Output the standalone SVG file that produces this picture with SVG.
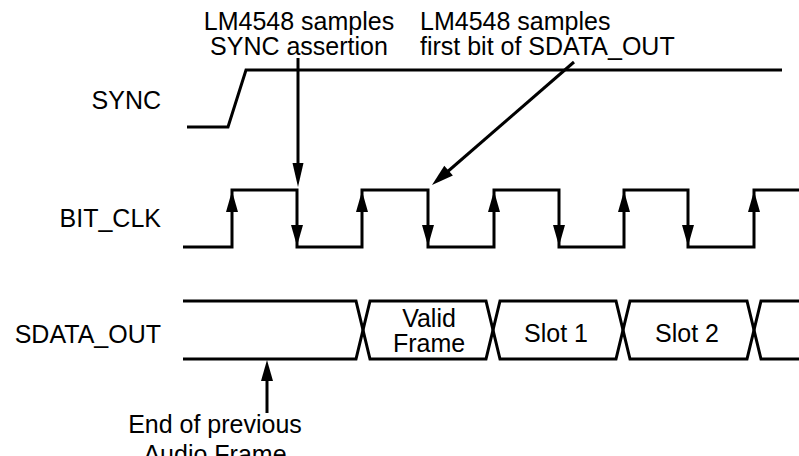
<svg xmlns="http://www.w3.org/2000/svg" width="799" height="456" viewBox="0 0 799 456">
<style>
  .t { font-family: "Liberation Sans", Arial, sans-serif; font-size: 25px; fill: #000; }
  .m { text-anchor: middle; }
  .e { text-anchor: end; }
  .w { fill: none; stroke: #000; stroke-width: 3; stroke-linejoin: miter; }
  .a { fill: #000; stroke: none; }
</style>
<rect width="799" height="456" fill="#fff"/>

<g id="sync">
  <text class="t e" x="161" y="109">SYNC</text>
  <path class="w" d="M187,127 H228 L246,70 H782"/>
</g>

<g id="bit_clk">
  <text class="t e" x="161" y="227">BIT_CLK</text>
  <path class="w" d="M183,247 H232 V190 H297 V247 H362 V190 H428 V247 H494 V190 H559 V247 H624 V190 H688 V247 H754 V190 H799"/>
  <polygon class="a" points="232,191 226,212 238,212"/>
  <polygon class="a" points="362,191 356,212 368,212"/>
  <polygon class="a" points="494,191 488,212 500,212"/>
  <polygon class="a" points="624,191 618,212 630,212"/>
  <polygon class="a" points="754,191 748,212 760,212"/>
  <polygon class="a" points="297,246 291,225 303,225"/>
  <polygon class="a" points="428,246 422,225 434,225"/>
  <polygon class="a" points="559,246 553,225 565,225"/>
  <polygon class="a" points="688,246 682,225 694,225"/>
</g>

<g id="sdata_out">
  <text class="t e" x="161" y="343">SDATA_OUT</text>
  <path class="w" d="M183,301 H356 L370,359 H486 L500,301 H616 L630,359 H747 L761,301 H799"/>
  <path class="w" d="M183,359 H356 L370,301 H486 L500,359 H616 L630,301 H747 L761,359 H799"/>
  <text class="t m" x="429" y="327">Valid</text>
  <text class="t m" x="429" y="352">Frame</text>
  <text class="t m" x="556" y="342">Slot 1</text>
  <text class="t m" x="687" y="342">Slot 2</text>
</g>

<g id="note_sync">
  <text class="t m" x="299" y="30">LM4548 samples</text>
  <text class="t m" x="299" y="55">SYNC assertion</text>
</g>

<g id="note_first_bit">
  <text class="t" x="420" y="30">LM4548 samples</text>
  <text class="t" x="420" y="55">first bit of SDATA_OUT</text>
</g>

<g id="note_end_frame">
  <text class="t m" x="215" y="433">End of previous</text>
  <text class="t m" x="215" y="463">Audio Frame</text>
</g>

<g id="connectors">
  <line class="w" x1="298" y1="58" x2="298" y2="168"/>
  <polygon class="a" points="298,187 292.5,163 303.5,163"/>
  <line class="w" x1="574" y1="62" x2="446" y2="173"/>
  <polygon class="a" points="432,185 452.9,175.5 444.3,165.7"/>
  <line class="w" x1="267" y1="413" x2="267" y2="378"/>
  <polygon class="a" points="267,360 261,381 273,381"/>
</g>
</svg>
